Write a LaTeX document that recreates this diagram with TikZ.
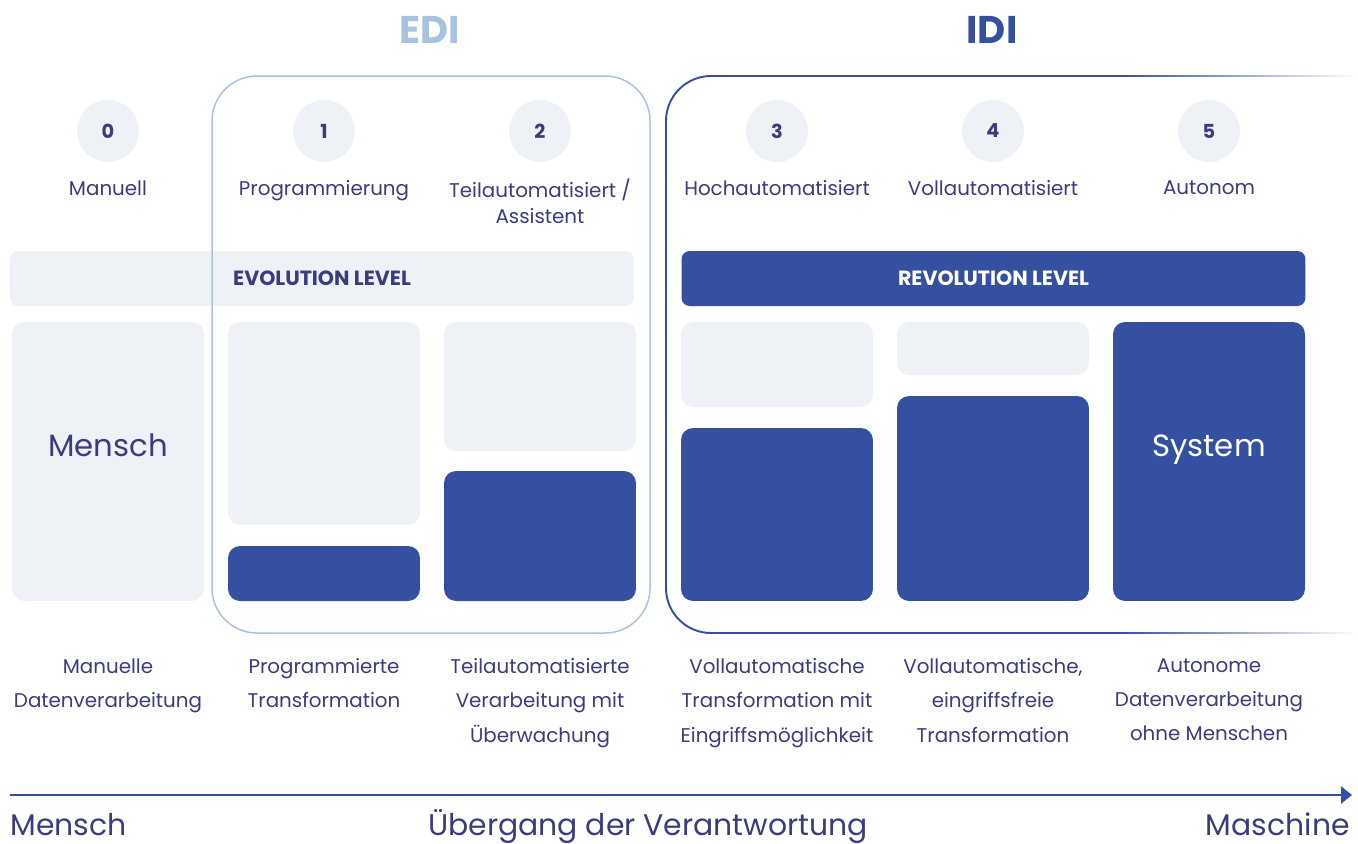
\documentclass[tikz,border=0pt]{standalone}
\usepackage{fontspec}
\setmainfont{Poppins}
\usepackage{tikz}
\usetikzlibrary{positioning,arrows.meta}
\definecolor{IdiBlue}{HTML}{3550A1}
\definecolor{EdiBlue}{HTML}{A9C3DE}
\definecolor{SoftGray}{HTML}{EEF1F6}
\definecolor{Ink}{HTML}{3B3B7E}

\begin{document}
\begin{tikzpicture}[
  x=0.02cm, y=-0.02cm,
  title/.style={font=\bfseries\fontsize{22}{24}\selectfont},
  levelnum/.style={
    circle,
    fill=SoftGray,
    minimum size=1.24cm,
    inner sep=0,
    text=Ink,
    font=\bfseries\fontsize{11}{13}\selectfont
  },
  levelname/.style={anchor=north, align=center, inner sep=0, text=Ink,
    font=\fontsize{11.3}{15.3}\selectfont},
  levelnote/.style={anchor=north, align=center, inner sep=0, text=Ink,
    font=\fontsize{11.3}{19.5}\selectfont},
  band/.style={
    rounded corners=0.16cm,
    minimum width=12.48cm,
    minimum height=1.1cm,
    inner sep=0,
    font=\bfseries\fontsize{11.7}{13}\selectfont
  },
  share/.style={rounded corners=0.24cm, minimum width=3.84cm, inner sep=0},
  human/.style={share, fill=SoftGray},
  machine/.style={share, fill=IdiBlue},
  sharetext/.style={inner sep=0, anchor=base, font=\fontsize{17.5}{20}\selectfont},
  axislabel/.style={inner sep=0, text=Ink, font=\fontsize{17}{19}\selectfont}
]

\useasboundingbox (0,0) rectangle (1358,843);

% headings
\node[title,text=EdiBlue] (edi) at (430,30) {EDI};
\node[title,text=IdiBlue] (idi) at (992,30) {IDI};

% level numbers
\node[levelnum] (n0) at (108,131) {0};
\node[levelnum] (n1) at (324,131) {1};
\node[levelnum] (n2) at (540,131) {2};
\node[levelnum] (n3) at (777,131) {3};
\node[levelnum] (n4) at (993,131) {4};
\node[levelnum] (n5) at (1209,131) {5};

% level names
\node[levelname] (l0) at (108,180) {Manuell};
\node[levelname] (l1) at (324,180) {Programmierung};
\node[levelname] (l2) at (540,178) {Teilautomatisiert /\\Assistent};
\node[levelname] (l3) at (777,180) {Hochautomatisiert};
\node[levelname] (l4) at (993,180) {Vollautomatisiert};
\node[levelname] (l5) at (1209,180) {Autonom};

% evolution / revolution bands
\node[band,fill=SoftGray,text=Ink] (evo) at (322,278.5) {EVOLUTION LEVEL};
\node[band,fill=IdiBlue,text=white] (revo) at (993.5,278.5) {REVOLUTION LEVEL};

% share of human and machine per level
\node[human,minimum height=5.58cm] (h0) at (108,461.5) {};
\node[human,minimum height=4.06cm] (h1) at (324,423.5) {};
\node[machine,minimum height=1.10cm] (m1) at (324,573.5) {};
\node[human,minimum height=2.58cm] (h2) at (540,386.5) {};
\node[machine,minimum height=2.60cm] (m2) at (540,536) {};
\node[human,minimum height=1.70cm] (h3) at (777,364.5) {};
\node[machine,minimum height=3.46cm] (m3) at (777,514.5) {};
\node[human,minimum height=1.06cm] (h4) at (993,348.5) {};
\node[machine,minimum height=4.10cm] (m4) at (993,498.5) {};
\node[machine,minimum height=5.58cm] (m5) at (1209,461.5) {};

\node[sharetext,text=Ink] (mensch0) at (h0.center |- 0,456) {Mensch};
\node[sharetext,text=white] (system5) at (m5.center |- 0,456) {System};

% EDI and IDI frames
\draw[EdiBlue,line width=0.85pt,rounded corners=0.9cm] (212,76) rectangle (650,633);
\draw[IdiBlue,line width=1.1pt,rounded corners=0.9cm]
  (1120,76) -- (666,76) -- (666,633) -- (1120,633);
\shade[left color=IdiBlue,right color=white] (1120,75.03) rectangle (1358,76.97);
\shade[left color=IdiBlue,right color=white] (1120,632.03) rectangle (1358,633.97);

% descriptions
\node[levelnote] (d0) at (108,658) {Manuelle\\Datenverarbeitung};
\node[levelnote] (d1) at (324,658) {Programmierte\\Transformation};
\node[levelnote] (d2) at (540,658) {Teilautomatisierte\\Verarbeitung mit\\Überwachung};
\node[levelnote] (d3) at (777,658) {Vollautomatische\\Transformation mit\\Eingriffsmöglichkeit};
\node[levelnote] (d4) at (993,658) {Vollautomatische,\\eingriffsfreie\\Transformation};
\node[levelnote] (d5) at (1209,658) {Autonome\\Datenverarbeitung\\ohne Menschen};

% responsibility axis
\coordinate (axisstart) at (10,795);
\coordinate (axisend) at (1352,795);
\draw[IdiBlue,line width=1.6pt,-{Triangle[length=0.22cm,width=0.34cm]}] (axisstart) -- (axisend);

\node[axislabel,anchor=base west] (mensch) at (10,835) {Mensch};
\node[axislabel,anchor=base] (shift) at (648,835) {Übergang der Verantwortung};
\node[axislabel,anchor=base east] (maschine) at (1350,835) {Maschine};

\end{tikzpicture}
\end{document}
